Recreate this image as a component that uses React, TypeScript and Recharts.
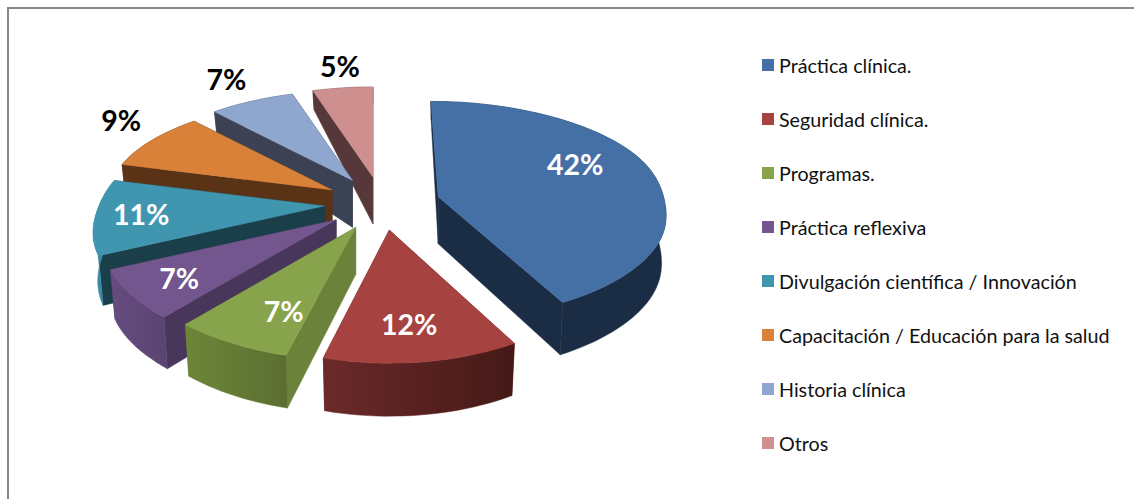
import { PieChart, Pie, Legend } from "recharts";

const categories = [
  "Práctica clínica.",
  "Seguridad clínica.",
  "Programas.",
  "Práctica reflexiva",
  "Divulgación científica / Innovación",
  "Capacitación / Educación para la salud",
  "Historia clínica",
  "Otros",
];
const values = [42, 12, 7, 7, 11, 9, 7, 5];

const topColors = ["#4570a6", "#a64341", "#87a44c", "#72568d", "#4196af", "#d98139", "#8fa6ce", "#ce8f8f"];
const sideColors = ["#1a2d45", "#652726", "#6a823a", "#49365b", "#1a3f4b", "#5a3316", "#3b4254", "#56383a"];
const wallLeft = ["#1a2d45", "#6b2a2a", "#6d8639", "#664c80", "#3a8ba3", "#5a3316", "#3b4254", "#56383a"];
const wallRight = ["#1a2d45", "#451917", "#5b6e31", "#5a4470", "#3a8ba3", "#5a3316", "#3b4254", "#56383a"];

// label centre relative to the slice tip
const labelOffsets = [
  [137, -33],
  [20, 94],
  [-72, 84],
  [-157, 58],
  [-183, 8],
  [-211, -70],
  [-126, -101],
  [-33, -111],
];
const labelColors = ["#fff", "#fff", "#fff", "#fff", "#fff", "#000", "#000", "#000"];

// Drawn back to front: the pie runs counter-clockwise from 12 o'clock, last category first
const tableData = categories
  .map((name, i) => ({ name, value: values[i], fill: topColors[i], idx: i }))
  .reverse();

const FONT = "Lato, sans-serif";
const TILT = 107.4 / 230;
const PERSPECTIVE = 0.193;
const EXPLODE_X = 58;
const EXPLODE_Y = 26.8;
const rad = (deg: number) => (deg * Math.PI) / 180;

function sliceTip(cx: number, cy: number, clockMid: number) {
  return {
    x: cx + EXPLODE_X * Math.sin(rad(clockMid)),
    y: cy - EXPLODE_Y * Math.cos(rad(clockMid)),
  };
}

function slicePoint(tip: { x: number; y: number }, R: number, clock: number, clockMid: number) {
  const sx = Math.sin(rad(clock));
  const d = Math.cos(rad(clock));
  // the big slice sits further back, so it gets less perspective
  const p = Math.sin(rad(clockMid)) > 0.5 ? PERSPECTIVE * 0.65 : PERSPECTIVE;
  const s = 1 / (1 + p * d);
  // slices right of the vanishing line lean toward it when they recede
  const lean = Math.max(0, tip.x - 373) * (s - 1) * Math.max(0, d);
  // the front slice is a bit narrower, the widest point of the pie too
  const front = 1 - 0.07 * Math.pow(Math.max(0, -Math.cos(rad(clockMid))), 16);
  const waist = 1 - 0.02 * Math.exp(-((d / 0.35) ** 2));
  const x = tip.x + R * sx * s * front * waist + lean;
  const y = tip.y - R * TILT * d * s;
  const h = d < 0 ? 47 - 6 * d : 47 - 29 * d;
  return { x, y, bx: tip.x + (x - tip.x) * 0.98, by: y + h };
}

const pts = (list: number[][]) => list.map((p) => p[0].toFixed(1) + "," + p[1].toFixed(1)).join(" ");

function Slice3D(props: any) {
  const { cx, cy, outerRadius, startAngle, endAngle, payload } = props;
  const i = payload.idx;
  // math angles to clockwise-from-top
  const a0 = 90 - endAngle + 360;
  const a1 = 90 - startAngle + 360;
  const from = Math.min(a0, a1);
  const to = Math.max(a0, a1);
  const mid = (from + to) / 2;
  const tip = sliceTip(cx, cy, mid);
  const arc = [];
  const steps = Math.max(4, Math.ceil((to - from) / 2));
  for (let k = 0; k <= steps; k++) {
    arc.push(slicePoint(tip, outerRadius, from + ((to - from) * k) / steps, mid));
  }
  const first = arc[0];
  const last = arc[arc.length - 1];
  const tipDrop = tip.y + 47;
  const top = [[tip.x, tip.y], ...arc.map((p) => [p.x, p.y])];
  const wall = [...arc.map((p) => [p.x, p.y]), ...[...arc].reverse().map((p) => [p.bx, p.by])];
  const faceA = [[tip.x, tip.y], [first.x, first.y], [first.bx, first.by], [tip.x, tipDrop]];
  const faceB = [[tip.x, tip.y], [last.x, last.y], [last.bx, last.by], [tip.x, tipDrop]];
  const side = sideColors[i];
  const gid = "wall-" + i;
  return (
    <g>
      <defs>
        <linearGradient id={gid} x1="0" y1="0" x2="1" y2="0">
          <stop offset="0%" stopColor={wallLeft[i]} />
          <stop offset="100%" stopColor={wallRight[i]} />
        </linearGradient>
      </defs>
      <polygon points={pts(faceA)} fill={side} stroke={side} strokeWidth={0.5} />
      <polygon points={pts(faceB)} fill={side} stroke={side} strokeWidth={0.5} />
      <polygon points={pts(wall)} fill={`url(#${gid})`} stroke={`url(#${gid})`} strokeWidth={0.5} />
      <polygon points={pts(top)} fill={topColors[i]} stroke={topColors[i]} strokeWidth={0.5} />
    </g>
  );
}

function renderLabel(props: any) {
  const { cx, cy, midAngle, payload } = props;
  const i = payload.idx;
  const tip = sliceTip(cx, cy, 90 - midAngle + 360);
  return (
    <text
      x={tip.x + labelOffsets[i][0]}
      y={tip.y + labelOffsets[i][1]}
      fill={labelColors[i]}
      textAnchor="middle"
      dominantBaseline="central"
      style={{ fontFamily: FONT, fontWeight: 700, fontSize: 28.5 }}
    >
      {values[i]}%
    </text>
  );
}

function LegendList({ payload }: any) {
  const items = [...(payload || [])].reverse();
  return (
    <div style={{ fontFamily: FONT, fontSize: 19.7, color: "#111" }}>
      {items.map((item: any) => (
        <div key={item.value} style={{ height: 54, display: "flex", alignItems: "center", whiteSpace: "nowrap" }}>
          <span style={{ width: 12, height: 12, background: item.color, marginRight: 5, flex: "none" }} />
          {item.value}
        </div>
      ))}
    </div>
  );
}

export default function App() {
  return (
    <div style={{ position: "absolute", left: 0, top: 0, width: 1134, height: 499, overflow: "hidden" }}>
      <div
        style={{
          position: "absolute",
          left: 7,
          top: 7,
          width: 1127,
          height: 492,
          boxSizing: "border-box",
          borderTop: "2px solid #868686",
          borderLeft: "2px solid #868686",
        }}
      />
      <PieChart width={1134} height={499} margin={{ top: 0, right: 0, bottom: 0, left: 0 }}>
        <Pie
          data={tableData}
          dataKey="value"
          nameKey="name"
          cx={382}
          cy={203.5}
          innerRadius={0}
          outerRadius={230}
          startAngle={90}
          endAngle={450}
          paddingAngle={0}
          stroke="none"
          shape={Slice3D}
          label={renderLabel}
          labelLine={false}
          isAnimationActive={false}
        />
        <Legend
          layout="vertical"
          align="right"
          verticalAlign="top"
          itemSorter={null}
          wrapperStyle={{ left: 762, top: 38, width: 372 }}
          content={(p: any) => <LegendList payload={p.payload} />}
        />
      </PieChart>
    </div>
  );
}
